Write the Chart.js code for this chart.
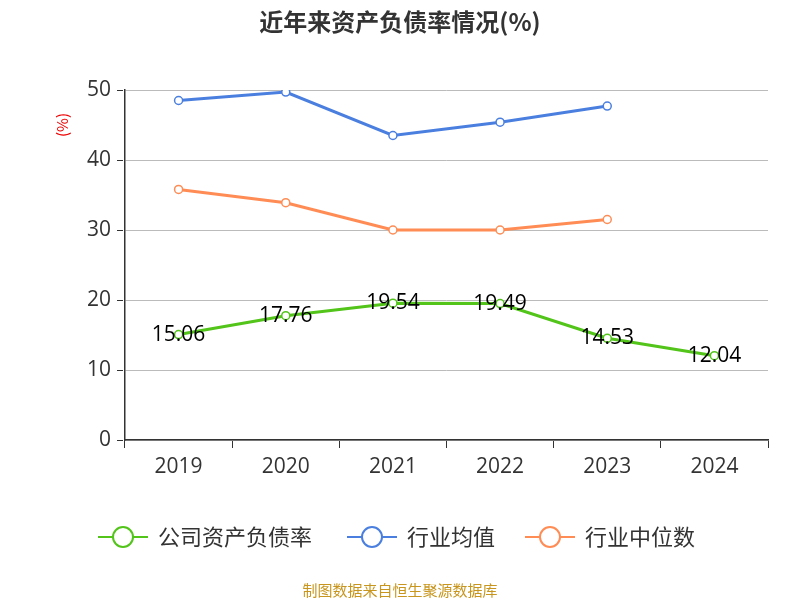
<!DOCTYPE html>
<html><head><meta charset="utf-8">
<script src="https://cdn.jsdelivr.net/npm/chart.js@4"></script>
<style>body{margin:0;background:#fff}#wrap{width:800px;height:600px}</style>
</head><body><div id="wrap"><canvas id="c" width="800" height="600"></canvas></div>
<script>
const years = ['2019', '2020', '2021', '2022', '2023', '2024'];
const company = [15.06, 17.76, 19.54, 19.49, 14.53, 12.04];
const industryAvg = [48.5, 49.7, 43.5, 45.4, 47.7, null];
const industryMedian = [35.8, 33.9, 30.0, 30.0, 31.5, null];
const yTicks = [0, 10, 20, 30, 40, 50];

const cjk = "'Noto Sans CJK SC', sans-serif";
const num = "'Open Sans', 'Noto Sans', sans-serif";

const extras = {
  id: 'extras',
  afterDatasetsDraw(chart) {
    const ctx = chart.ctx;
    const meta = chart.getDatasetMeta(0);
    ctx.save();
    ctx.textAlign = 'center';
    ctx.textBaseline = 'middle';
    // data labels
    ctx.font = '21px ' + num;
    ctx.fillStyle = '#000';
    meta.data.forEach((p, i) => ctx.fillText(company[i].toFixed(2), p.x, p.y));
    // title
    ctx.font = 'bold 24px ' + cjk;
    ctx.fillStyle = '#333';
    ctx.fillText('近年来资产负债率情况(%)', 400, 22);
    // y unit
    ctx.save();
    ctx.translate(62, 125);
    ctx.rotate(-Math.PI / 2);
    ctx.font = '15px ' + cjk;
    ctx.fillStyle = '#e00';
    ctx.fillText('(%)', 0, 0);
    ctx.restore();
    // legend
    const items = [[98, 0], [347, 1], [525, 2]];
    ctx.textAlign = 'left';
    ctx.font = '22px ' + cjk;
    items.forEach(([x, i]) => {
      const d = chart.data.datasets[i];
      ctx.strokeStyle = d.borderColor;
      ctx.lineWidth = 2;
      ctx.beginPath(); ctx.moveTo(x, 537); ctx.lineTo(x + 50, 537); ctx.stroke();
      ctx.beginPath(); ctx.arc(x + 25, 537, 10, 0, Math.PI * 2);
      ctx.fillStyle = '#fff'; ctx.fill(); ctx.stroke();
      ctx.fillStyle = '#333';
      ctx.fillText(d.label, x + 60, 537);
    });
    // footer
    ctx.textAlign = 'center';
    ctx.font = '15px ' + cjk;
    ctx.fillStyle = '#c8961e';
    ctx.fillText('制图数据来自恒生聚源数据库', 400, 590);
    ctx.restore();
  }
};

function ds(label, data, color) {
  return {
    label, data, borderColor: color, backgroundColor: '#fff',
    borderWidth: 3, pointRadius: 4, pointBorderWidth: 1.5, pointBorderColor: color,
    pointBackgroundColor: '#fff', tension: 0, spanGaps: false
  };
}

new Chart(document.getElementById('c'), {
  type: 'line',
  data: {
    labels: years,
    datasets: [
      ds('公司资产负债率', company, '#52c41a'),
      ds('行业均值', industryAvg, '#4a7fe0'),
      ds('行业中位数', industryMedian, '#ff8c55')
    ]
  },
  options: {
    responsive: false, animation: false,
    layout: { padding: { left: 0, right: 32, top: 90, bottom: 120 } },
    plugins: { legend: { display: false }, title: { display: false }, tooltip: { enabled: false } },
    scales: {
      x: { offset: true,
        afterFit(axis) { axis.height = 40; },
        grid: { offset: true, display: true, drawOnChartArea: false, color: '#333', tickLength: 8 },
        border: { color: '#333', width: 1.5 },
        ticks: { color: '#333', font: { family: num, size: 21 }, padding: 6 } },
      y: { min: 0, max: 50,
        afterFit(axis) { axis.width = 125; },
        afterBuildTicks(axis) { axis.ticks = yTicks.map(v => ({ value: v })); },
        grid: { color: '#bbb', tickColor: '#333', tickLength: 8, tickBorderDash: [6, 4] },
        border: { color: '#333', width: 1.5 },
        ticks: { color: '#333', font: { family: num, size: 21 }, padding: 6 } }
    }
  },
  plugins: [extras]
});
</script></body></html>
